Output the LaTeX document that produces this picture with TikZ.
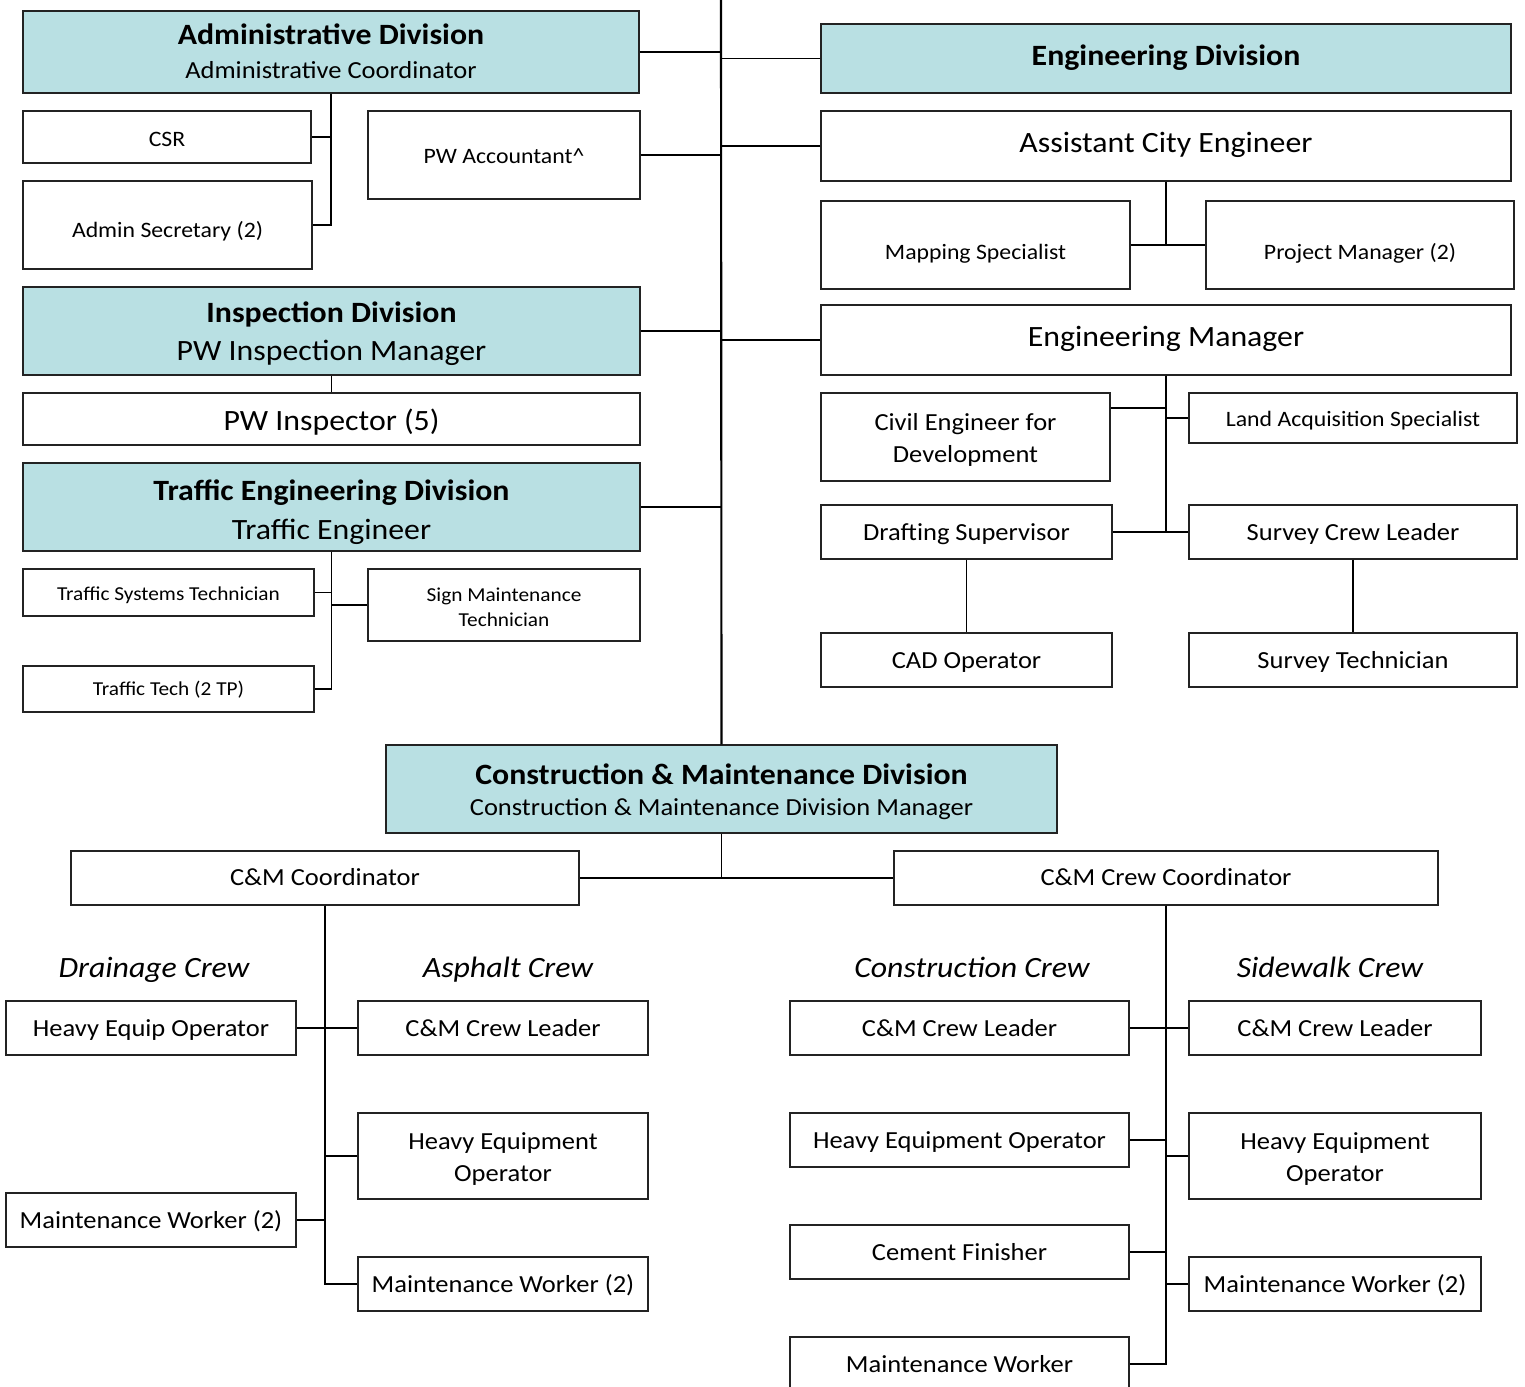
\documentclass[tikz,border=0pt]{standalone}
\usepackage{fontspec}
\setmainfont{Carlito}[FakeStretch=1.08]
\definecolor{divblue}{RGB}{185,224,227}
\definecolor{edge}{RGB}{35,35,35}
\newcommand\lowr[1]{\rule{0pt}{\dimexpr\ht\strutbox+#1\relax}}
% strut lowered text: extra height #1 (in em)
\newcommand\st[1]{\rule[-0.3\baselineskip]{0pt}{\dimexpr\baselineskip+#1em\relax}}
\newcommand\tp[1]{\rule{0pt}{#1}}
\newcommand\bt[1]{\rule[-#1]{0pt}{0pt}}
\newcommand\bx[7][]{\node[box,#1,minimum width={(#5-#3)*0.75pt},minimum height={(#6-#4)*0.75pt}] (#2) at ({(#3+#5)/2},{(#4+#6)/2}) {#7};}
\tikzset{
  box/.style={draw=edge, line width=1pt, inner sep=0pt, align=center},
  div/.style={fill=divblue},
  fbig/.style={font=\fontsize{22.1pt}{26pt}\selectfont},
  fmed/.style={font=\fontsize{18.4pt}{24pt}\selectfont},
  fnorm/.style={font=\fontsize{16.5pt}{20pt}\selectfont},
  fsmall/.style={font=\fontsize{14.8pt}{18.75pt}\selectfont},
  conn/.style={draw=black, line width=1.3pt},
  mainline/.style={draw=black, line width=1.6pt},
  crew/.style={font=\fontsize{22.1pt}{26pt}\selectfont\itshape, inner sep=0pt},
}
\begin{document}
\begin{tikzpicture}[x=0.75pt,y=-0.75pt]
\useasboundingbox (0,0) rectangle (1525,1387);
% ---------- left column ----------
\bx[div,fmed]{admin}{23}{11}{639}{93}{\tp{19.75pt}{\bfseries\fontsize{22.1pt}{25pt}\selectfont Administrative Division}\\[1.5pt]Administrative Coordinator\bt{5.25pt}}
\bx[fnorm]{csr}{23}{111}{311}{163}{\st{0.4}CSR}
\bx[fnorm]{asec}{23}{181}{312}{269}{\lowr{7pt}Admin Secretary (2)}
\bx[fnorm]{acct}{368}{111}{640}{199}{\st{0.3}PW Accountant\^{}}
\bx[div,fbig]{insp}{23}{287}{640}{375}{\tp{22.5pt}{\bfseries Inspection Division}\\[2.5pt]PW Inspection Manager\bt{6pt}}
\bx[fbig]{pwi}{23}{393}{640}{445}{\st{0.3}PW Inspector (5)}
\bx[div,fbig]{traf}{23}{463}{640}{551}{\tp{25.5pt}{\bfseries Traffic Engineering Division}\\[2.5pt]Traffic Engineer\bt{6pt}}
\bx[fsmall]{tst}{23}{569}{314}{616}{\st{0.3}Traffic Systems Technician}
\bx[fsmall]{sign}{368}{569}{640}{641}{\strut Sign Maintenance\\Technician}
\bx[fsmall]{ttech}{23}{666}{314}{712}{\st{0.2}Traffic Tech (2 TP)}
% ---------- right column ----------
\bx[div,fbig]{eng}{821}{24}{1511}{93}{\strut\bfseries Engineering Division}
\bx[fbig]{ace}{821}{111}{1511}{181}{\strut Assistant City Engineer}
\bx[fnorm]{map}{821}{201}{1130}{289}{\lowr{10pt}Mapping Specialist}
\bx[fnorm]{pm}{1206}{201}{1514}{289}{\lowr{10pt}Project Manager (2)}
\bx[fbig]{em}{821}{305}{1511}{375}{\strut Engineering Manager}
\bx[fmed]{civil}{821}{393}{1110}{481}{\lowr{0.5pt}Civil Engineer for\\Development}
\bx[fnorm]{land}{1189}{393}{1517}{443}{\st{0.3}Land Acquisition Specialist}
\bx[fmed]{draft}{821}{505}{1112}{559}{\st{0.15}Drafting Supervisor}
\bx[fmed]{scl}{1189}{505}{1517}{559}{\st{0.15}Survey Crew Leader}
\bx[fmed]{cad}{821}{633}{1112}{687}{\st{0.15}CAD Operator}
\bx[fmed]{stech}{1189}{633}{1517}{687}{\st{0.15}Survey Technician}
% ---------- C&M ----------
\bx[div,fmed]{cm}{386}{745}{1057}{833}{\tp{21.4pt}{\bfseries\fontsize{22.1pt}{25.5pt}\selectfont Construction \& Maintenance Division}\\[-0.5pt]Construction \& Maintenance Division Manager\bt{5.25pt}}
\bx[fmed]{cmc}{71}{851}{579}{905}{\st{0.12}C\&M Coordinator}
\bx[fmed]{cmcc}{894}{851}{1438}{905}{\st{0.12}C\&M Crew Coordinator}
\node[crew] (hdrain) at (154,971) {\strut Drainage Crew};
\node[crew] (hasph) at (508,971) {\strut Asphalt Crew};
\node[crew] (hcons) at (972,971) {\strut Construction Crew};
\node[crew] (hside) at (1330,971) {\strut Sidewalk Crew};
\bx[fmed]{heo}{6}{1001}{296}{1055}{\st{0.15}Heavy Equip Operator}
\bx[fmed]{dmw}{6}{1193}{296}{1247}{\st{0.15}Maintenance Worker (2)}
\bx[fmed]{acl}{358}{1001}{648}{1055}{\st{0.15}C\&M Crew Leader}
\bx[fmed]{aheo}{358}{1113}{648}{1199}{\lowr{0.5pt}Heavy Equipment\\Operator}
\bx[fmed]{amw}{358}{1257}{648}{1311}{\st{0.15}Maintenance Worker (2)}
\bx[fmed]{ccl}{790}{1001}{1129}{1055}{\st{0.15}C\&M Crew Leader}
\bx[fmed]{cheo}{790}{1113}{1129}{1167}{\st{0.15}Heavy Equipment Operator}
\bx[fmed]{cf}{790}{1225}{1129}{1279}{\st{0.15}Cement Finisher}
\bx[fmed]{cmw}{790}{1337}{1129}{1391}{\st{0.15}Maintenance Worker}
\bx[fmed]{scl2}{1189}{1001}{1481}{1055}{\st{0.15}C\&M Crew Leader}
\bx[fmed]{sheo}{1189}{1113}{1481}{1199}{\lowr{0.5pt}Heavy Equipment\\Operator}
\bx[fmed]{smw}{1189}{1257}{1481}{1311}{\st{0.15}Maintenance Worker (2)}
% ---------- connectors ----------
\coordinate (top) at (721,0);
\draw[mainline] (top) -- (cm.north);
\draw[conn] (admin.east) -- (admin.east -| top);
\draw[conn] (acct.east) -- (acct.east -| top);
\draw[conn] (insp.east) -- (insp.east -| top);
\draw[conn] (traf.east) -- (traf.east -| top);
\draw[conn] (eng.west) -- (eng.west -| top);
\draw[conn] (ace.west) -- (ace.west -| top);
\draw[conn] (em.west) -- (em.west -| top);
\draw[conn] (admin.south) |- (csr.east);
\draw[conn] (admin.south) |- (asec.east);
\draw[conn] (insp.south) -- (pwi.north);
\draw[conn] (traf.south) |- (tst.east);
\draw[conn] (traf.south) |- (sign.west);
\draw[conn] (traf.south) |- (ttech.east);
\draw[conn] (ace.south) |- (map.east);
\draw[conn] (ace.south) |- (pm.west);
\draw[conn] (em.south) |- ([yshift=-12pt]civil.north east);
\draw[conn] (em.south) |- (land.west);
\draw[conn] (em.south) |- (draft.east);
\draw[conn] (em.south) |- (scl.west);
\draw[conn] (draft.south) -- (cad.north);
\draw[conn] (scl.south) -- (stech.north);
\draw[conn] (cm.south) |- (cmc.east);
\draw[conn] (cm.south) |- (cmcc.west);
\draw[conn] (cmc.south) |- (heo.east);
\draw[conn] (cmc.south) |- (acl.west);
\draw[conn] (cmc.south) |- (aheo.west);
\draw[conn] (cmc.south) |- (dmw.east);
\draw[conn] (cmc.south) |- (amw.west);
\draw[conn] (cmcc.south) |- (ccl.east);
\draw[conn] (cmcc.south) |- (scl2.west);
\draw[conn] (cmcc.south) |- (cheo.east);
\draw[conn] (cmcc.south) |- (sheo.west);
\draw[conn] (cmcc.south) |- (cf.east);
\draw[conn] (cmcc.south) |- (smw.west);
\draw[conn] (cmcc.south) |- (cmw.east);
\end{tikzpicture}
\end{document}
